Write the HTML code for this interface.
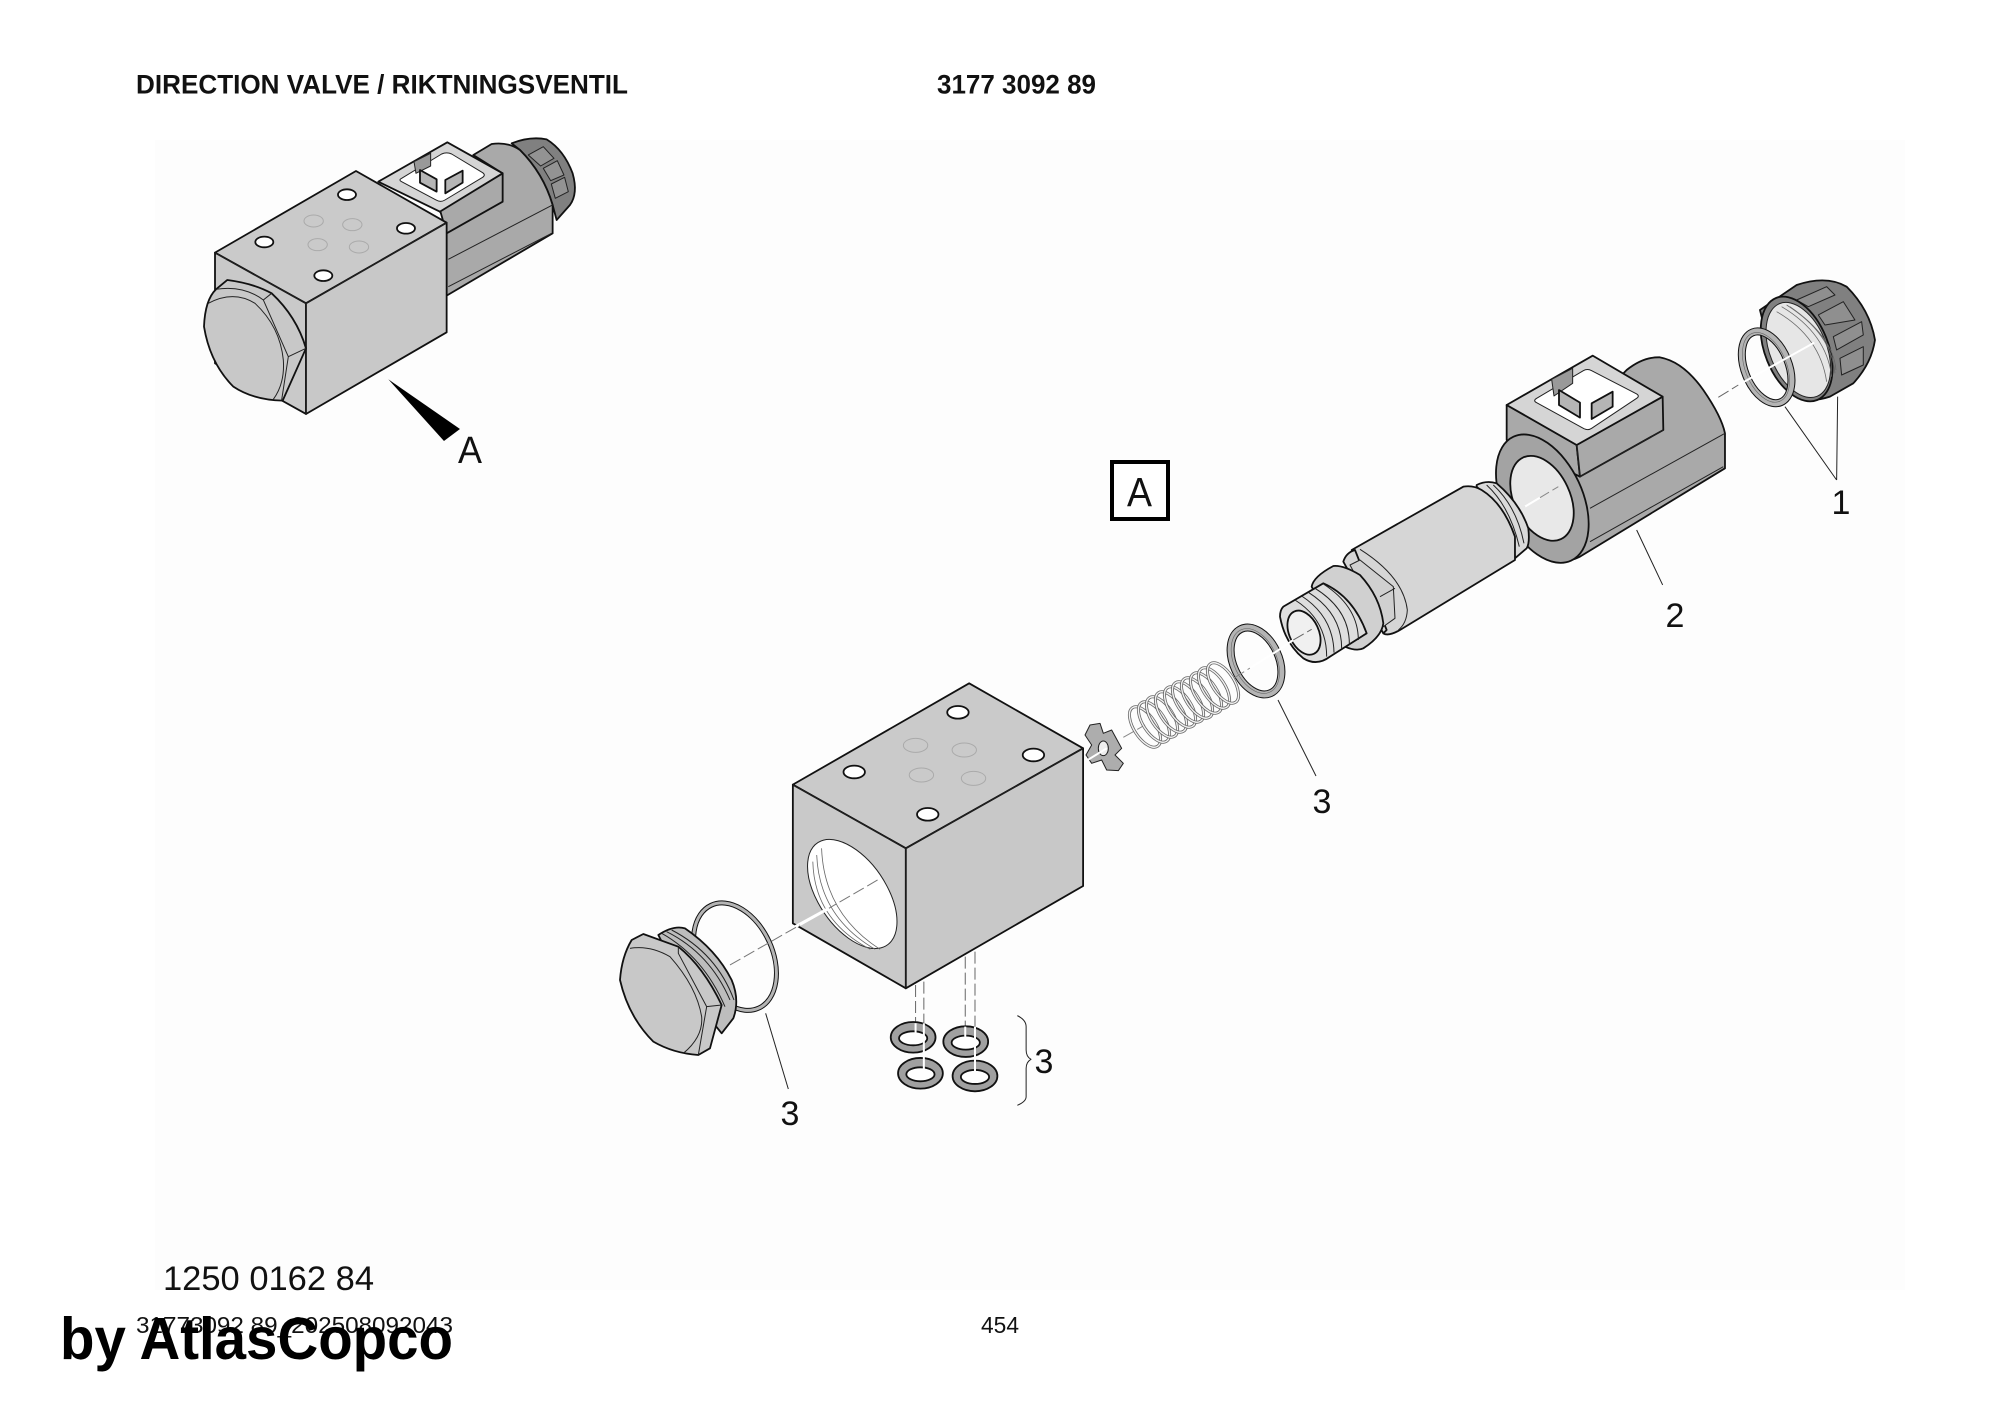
<!DOCTYPE html>
<html><head><meta charset="utf-8"><style>
html,body{margin:0;padding:0;background:#fff}
svg{display:block}
.d *{vector-effect:non-scaling-stroke;stroke:#111;stroke-width:1.8;stroke-linejoin:round}
.d .n{stroke:none}
.d .t{stroke-width:1;stroke:#222}
.d .w{stroke:#fff;stroke-width:2}
.d .g{stroke:#aaa;stroke-width:1}
.d .th{stroke:#666;stroke-width:.8}
.d .da{stroke:#666;stroke-width:1;stroke-dasharray:12 4;fill:none}
.d .rb{stroke:#111;fill:none}
.d .rg{stroke:#b4b4b4;fill:none}
.d .rl{stroke:#666;fill:none}
.d .sb{stroke:#666;stroke-width:3;fill:none}
.d .sw{stroke:#f2f2f2;stroke-width:1.4;fill:none}
text{font-family:"Liberation Sans",sans-serif;fill:#111}
</style></head><body>
<svg xmlns="http://www.w3.org/2000/svg" width="2000" height="1414" viewBox="0 0 2000 1414">
<rect width="2000" height="1414" fill="#fff"/>
<rect x="155" y="140" width="1750" height="1150" fill="#fdfdfd"/>

<text x="136" y="93.5" font-size="27" font-weight="bold" textLength="492" lengthAdjust="spacingAndGlyphs">DIRECTION VALVE / RIKTNINGSVENTIL</text>
<text x="937" y="93.5" font-size="27" font-weight="bold" textLength="159" lengthAdjust="spacingAndGlyphs">3177 3092 89</text>

<!-- assembled valve -->
<g class="d" transform="translate(200,130) scale(.3333)">
  <path d="M935,40 Q990,18 1040,28 Q1092,60 1118,130 Q1135,190 1110,225 L1070,270 L1058,225 Q1030,130 960,60 Z" fill="#808080"/>
  <path d="M985,75 L1030,50 L1062,85 L1022,108 Z" fill="#939393" class="t"/>
  <path d="M1030,115 L1072,92 L1092,135 L1052,152 Z" fill="#939393" class="t"/>
  <path d="M1054,162 L1094,142 L1105,185 L1066,205 Z" fill="#939393" class="t"/>
  <path d="M820,75 L875,42 Q925,35 960,60 Q1030,130 1058,225 L1058,310 L740,497 L740,278 L720,245 L908,215 L908,130 Z" fill="#a9a9a9"/>
  <path d="M745,388 L1058,225M745,470 L1055,310" fill="none" class="t"/>
  <path d="M720,240 L908,130 L908,215 L740,310 Z" fill="#a9a9a9"/>
  <path d="M535,155 L742,37 L908,130 L720,245 Z" fill="#d5d5d5"/>
  <path d="M605,145 L725,72 Q740,65 755,72 L848,128 Q858,135 848,142 L735,210 Q722,218 708,210 L605,155 Q595,150 605,145 Z" fill="#fff" class="t"/>
  <path d="M642,95 L692,70 L692,108 L648,130 Z" fill="#999" class="t"/>
  <path d="M660,120 L710,148 L710,185 L660,158 Z" fill="#b5b5b5"/>
  <path d="M736,150 L788,122 L788,158 L736,190 Z" fill="#b5b5b5"/>
  <path d="M45,368 L468,123 L740,278 L318,520 Z" fill="#cacaca"/>
  <path d="M45,368 L318,520 L318,852 L45,700 Z" fill="#c9c9c9"/>
  <path d="M318,520 L740,278 L740,607 L318,852 Z" fill="#c8c8c8"/>
  <path d="M45,368 L318,520 L740,278M318,520 L318,852" fill="none" class="t"/>
  <ellipse cx="441" cy="194" rx="27" ry="16" fill="#fff"/>
  <ellipse cx="618" cy="295" rx="27" ry="16" fill="#fff"/>
  <ellipse cx="193" cy="336" rx="27" ry="16" fill="#fff"/>
  <ellipse cx="370" cy="437" rx="27" ry="16" fill="#fff"/>
  <ellipse cx="341" cy="273" rx="29" ry="18" fill="none" class="g"/>
  <ellipse cx="457" cy="284" rx="29" ry="18" fill="none" class="g"/>
  <ellipse cx="353" cy="344" rx="29" ry="18" fill="none" class="g"/>
  <ellipse cx="477" cy="351" rx="29" ry="18" fill="none" class="g"/>
  <path d="M48,478 L82,450 Q160,460 215,490 Q290,560 318,655 L248,812 Q160,810 100,770 Q30,700 12,590 Q15,510 48,478 Z" fill="#c8c8c8"/>
  <path d="M48,478 Q130,465 190,510 L265,680 L245,810M215,490 L190,510M265,680 L318,655M25,520 Q100,480 165,520 Q240,590 250,690 Q255,760 220,808" fill="none" class="t"/>
  <polygon points="565,748 780,897 732,933" fill="#000" class="n"/>
</g>
<text x="458" y="463" font-size="38" textLength="24" lengthAdjust="spacingAndGlyphs">A</text>

<!-- coil and nut -->
<g class="d" transform="translate(1480,270) scale(.3333)">
  <path d="M840,120 L950,45 Q1040,15 1100,50 Q1170,120 1185,210 Q1175,280 1120,340 L1050,380 Q990,400 950,380 L890,320 Z" fill="#808080"/>
  <path d="M950,90 L1040,50 L1065,75 L985,110 Z" fill="#8f8f8f" class="t"/>
  <path d="M1015,135 L1090,95 L1125,150 L1035,165 Z" fill="#8f8f8f" class="t"/>
  <path d="M1060,200 L1145,155 L1150,195 L1070,240 Z" fill="#8f8f8f" class="t"/>
  <path d="M1080,265 L1150,230 L1150,285 L1085,315 Z" fill="#8f8f8f" class="t"/>
  <ellipse cx="950" cy="237" rx="95" ry="165" fill="#808080" transform="rotate(-22 950 237)"/>
  <ellipse cx="955" cy="240" rx="85" ry="150" fill="#e6e6e6" transform="rotate(-22 955 240)" class="t"/>
  <path d="M905,110 Q1040,190 1055,320M920,105 Q1055,190 1065,310M930,110 Q1060,200 1068,300M890,125 Q1020,200 1040,335" fill="none" class="th"/>
  <ellipse cx="860" cy="292" rx="66" ry="113" class="rb" style="stroke-width:8px" transform="rotate(-22 860 292)"/>
  <ellipse cx="860" cy="292" rx="66" ry="113" class="rg" style="stroke-width:6px" transform="rotate(-22 860 292)"/>
  <ellipse cx="858" cy="292" rx="62" ry="110" class="rl" style="stroke-width:.6px" transform="rotate(-22 858 292)"/>
  <path d="M775,345 L1003,218" class="w"/>
  <path d="M715,382 L775,345" class="da"/>
  <path d="M915,410 L1070,630M1073,380 L1070,630M470,780 L548,945" fill="none" class="t"/>

  <path d="M440,300 Q490,260 540,262 Q610,275 670,360 Q725,440 735,490 L735,595 L300,860 Q260,880 220,870 L100,650 Z" fill="#a9a9a9"/>
  <path d="M80,405 L290,525 L300,620 L80,510 Z" fill="#a9a9a9"/>
  <path d="M290,525 L548,380 L550,480 L300,620 Z" fill="#a9a9a9"/>
  <path d="M80,405 L338,257 L548,380 L290,525 Z" fill="#d5d5d5"/>
  <path d="M170,385 L310,302 Q322,295 335,302 L470,372 Q480,378 470,385 L335,475 Q325,482 312,476 L170,398 Q158,392 170,385 Z" fill="#fff" class="t"/>
  <path d="M215,328 L278,295 L278,340 L222,378 Z" fill="#999" class="t"/>
  <path d="M237,360 L300,398 L300,443 L237,405 Z" fill="#b5b5b5"/>
  <path d="M335,400 L398,365 L398,410 L335,447 Z" fill="#b5b5b5"/>
  <path d="M290,525 L300,620M300,620 L550,480M330,715 L735,490M330,815 L730,590" fill="none" class="t"/>
  <ellipse cx="187" cy="686" rx="120" ry="205" fill="#a3a3a3" transform="rotate(-25 187 686)"/>
  <ellipse cx="186" cy="685" rx="84" ry="135" fill="#e8e8e8" transform="rotate(-25 186 685)"/>
  <path d="M135,710 L235,650" class="da" style="stroke:#888"/>
  <path d="M135,710 L180,683" class="w"/>
</g>

<!-- tube -->
<g class="d" transform="translate(1260,470) scale(.3333)">
  <path d="M650,45 Q680,30 710,40 Q780,100 805,175 Q810,220 800,235 L765,265 Q760,150 650,50 Z" fill="#dadada"/>
  <path d="M680,45 Q750,110 778,230M700,45 Q770,110 792,220" fill="none" class="t"/>
  <path d="M275,240 L610,50 Q640,45 665,60 Q730,100 765,200 L765,270 L420,480 Q385,500 370,490 Z" fill="#d6d6d6"/>
  <path d="M300,238 Q430,320 442,420 Q440,460 415,480" fill="none" class="t"/>
  <path d="M250,275 Q258,248 285,240 L380,480 L370,490 Z" fill="#d6d6d6"/>
  <path d="M270,285 L300,270 L400,350 L405,445 L370,470 Z" fill="#d0d0d0" class="t"/>
  <path d="M360,380 L405,355" class="t" fill="none"/>
  <path d="M155,350 Q160,320 220,288 Q250,285 300,315 Q360,380 370,460 Q365,500 310,535 Q290,545 255,530 Z" fill="#d0d0d0"/>
  <path d="M70,410 L190,340 Q280,380 320,490 L210,560 Q170,590 130,565 Q75,520 60,440 Q60,420 70,410 Z" fill="#dedede"/>
  <path d="M105,390 Q200,450 200,560M125,378 Q220,440 222,548M145,367 Q245,430 245,535M165,355 Q270,420 268,525M190,342 Q295,410 295,510" fill="none" class="t"/>
  <ellipse cx="132" cy="488" rx="44" ry="70" fill="#f0f0f0" transform="rotate(-25 132 488)"/>
  <path d="M55,540 L100,510" class="w"/>
  <path d="M100,510 L155,478" class="da"/>
  <ellipse cx="-12" cy="573" rx="68" ry="106" class="rb" style="stroke-width:8px" transform="rotate(-25 -12 573)"/>
  <ellipse cx="-12" cy="573" rx="68" ry="106" class="rg" style="stroke-width:6px" transform="rotate(-25 -12 573)"/>
  <ellipse cx="-14" cy="573" rx="64" ry="103" class="rl" style="stroke-width:.6px" transform="rotate(-25 -14 573)"/>
</g>

<!-- block and washers -->
<g class="d" transform="translate(600,660) scale(.487,.3333)">
  <path d="M396,374 L758,70 L992,265 L628,565 Z" fill="#cacaca"/>
  <path d="M396,374 L628,565 L628,985 L396,790 Z" fill="#c9c9c9"/>
  <path d="M628,565 L992,265 L992,678 L628,985 Z" fill="#c8c8c8"/>
  <path d="M396,374 L628,565 L992,265M628,565 L628,985" fill="none" class="t"/>
  <ellipse cx="518" cy="702" rx="75" ry="172" fill="#fff" transform="rotate(-20 518 702)" class="t"/>
  <path d="M437,605 Q440,780 555,868M445,585 Q450,770 565,868M455,565 Q460,760 575,868" fill="none" class="th"/>
  <ellipse cx="735" cy="157" rx="22" ry="19" fill="#fff"/>
  <ellipse cx="890" cy="285" rx="22" ry="19" fill="#fff"/>
  <ellipse cx="522" cy="336" rx="22" ry="19" fill="#fff"/>
  <ellipse cx="673" cy="463" rx="22" ry="19" fill="#fff"/>
  <ellipse cx="648" cy="256" rx="25" ry="21" fill="none" class="g"/>
  <ellipse cx="748" cy="270" rx="25" ry="21" fill="none" class="g"/>
  <ellipse cx="660" cy="345" rx="25" ry="21" fill="none" class="g"/>
  <ellipse cx="767" cy="355" rx="25" ry="21" fill="none" class="g"/>
  <path d="M570,660 L470,745" class="da" style="stroke:#777"/>
  <path d="M470,745 L395,805" class="w" style="stroke-width:3px"/>

  <path d="M648,975 L648,1130M665,965 L665,1240M750,890 L750,1130M770,875 L770,1240" class="da"/>
  <ellipse cx="643" cy="1132" rx="46" ry="46" fill="#a0a0a0"/><ellipse cx="643" cy="1135" rx="29" ry="21" fill="#fff"/>
  <ellipse cx="751" cy="1145" rx="46" ry="46" fill="#a0a0a0"/><ellipse cx="751" cy="1148" rx="29" ry="21" fill="#fff"/>
  <ellipse cx="658" cy="1240" rx="46" ry="46" fill="#a0a0a0"/><ellipse cx="658" cy="1243" rx="29" ry="21" fill="#fff"/>
  <ellipse cx="770" cy="1248" rx="46" ry="46" fill="#a0a0a0"/><ellipse cx="770" cy="1251" rx="29" ry="21" fill="#fff"/>
  <path d="M648,1090 L648,1130M665,1090 L665,1240M750,1100 L750,1130M770,1100 L770,1240" class="w"/>
  <path d="M857,1067 Q875,1080 875,1100 V1170 Q875,1190 885,1198 Q875,1206 875,1225 V1310 Q875,1325 857,1336" fill="none" class="t"/>
</g>

<!-- plug and o-ring -->
<g class="d" transform="translate(610,890) scale(.3333)">
  <ellipse cx="375" cy="200" rx="112" ry="170" class="rb" style="stroke-width:5px" transform="rotate(-25 375 200)"/>
  <ellipse cx="375" cy="200" rx="112" ry="170" class="rg" style="stroke-width:3px" transform="rotate(-25 375 200)"/>
  <path d="M145,135 Q190,105 225,115 Q320,180 365,270 Q390,330 370,385 L335,430 L230,300 Z" fill="#bdbdbd"/>
  <path d="M170,125 Q300,190 360,330M185,120 Q320,190 372,330M155,130 Q280,200 345,350" fill="none" class="t"/>
  <path d="M65,150 L100,132 L205,170 Q280,230 335,345 L300,475 L265,495 Q190,490 130,455 Q55,380 30,270 Q35,200 65,150 Z" fill="#c8c8c8"/>
  <path d="M60,175 Q120,165 180,200 Q260,290 275,380 Q280,440 220,490M205,170 L205,190 L290,350 L335,345M290,350 L265,495" fill="none" class="t"/>
  <path d="M360,225 L640,65" class="da" style="stroke:#777"/>
  <path d="M570,105 L640,65" class="w"/>
  <path d="M467,370 L535,597" fill="none" class="t"/>
</g>

<!-- spring and star washer -->
<g class="d">
  <g transform="translate(1090,680) scale(.3333)">
    <path d="M0,135 L30,130 L40,160 L65,150 L95,205 L75,225 L100,250 L85,272 L50,270 L35,240 L5,250 L-12,225 L5,195 L-15,165 Z" fill="#adadad" class="t"/>
    <ellipse cx="40" cy="205" rx="15" ry="22" fill="#eee" class="t"/>
    <path d="M-15,245 L50,205" class="w"/>
    <path d="M100,172 L165,135" class="da" style="stroke:#888"/>
  </g>
  <g>
    <ellipse cx="1145" cy="727" rx="11" ry="23" class="sb" transform="rotate(-33 1145 727)"/><ellipse cx="1145" cy="727" rx="11" ry="23" class="sw" transform="rotate(-33 1145 727)"/>
    <ellipse cx="1154" cy="722" rx="11" ry="23" class="sb" transform="rotate(-33 1154 722)"/><ellipse cx="1154" cy="722" rx="11" ry="23" class="sw" transform="rotate(-33 1154 722)"/>
    <ellipse cx="1162" cy="717" rx="11" ry="23" class="sb" transform="rotate(-33 1162 717)"/><ellipse cx="1162" cy="717" rx="11" ry="23" class="sw" transform="rotate(-33 1162 717)"/>
    <ellipse cx="1171" cy="712" rx="11" ry="23" class="sb" transform="rotate(-33 1171 712)"/><ellipse cx="1171" cy="712" rx="11" ry="23" class="sw" transform="rotate(-33 1171 712)"/>
    <ellipse cx="1180" cy="707" rx="11" ry="23" class="sb" transform="rotate(-33 1180 707)"/><ellipse cx="1180" cy="707" rx="11" ry="23" class="sw" transform="rotate(-33 1180 707)"/>
    <ellipse cx="1188" cy="702" rx="11" ry="23" class="sb" transform="rotate(-33 1188 702)"/><ellipse cx="1188" cy="702" rx="11" ry="23" class="sw" transform="rotate(-33 1188 702)"/>
    <ellipse cx="1197" cy="698" rx="11" ry="23" class="sb" transform="rotate(-33 1197 698)"/><ellipse cx="1197" cy="698" rx="11" ry="23" class="sw" transform="rotate(-33 1197 698)"/>
    <ellipse cx="1206" cy="693" rx="11" ry="23" class="sb" transform="rotate(-33 1206 693)"/><ellipse cx="1206" cy="693" rx="11" ry="23" class="sw" transform="rotate(-33 1206 693)"/>
    <ellipse cx="1214" cy="688" rx="11" ry="23" class="sb" transform="rotate(-33 1214 688)"/><ellipse cx="1214" cy="688" rx="11" ry="23" class="sw" transform="rotate(-33 1214 688)"/>
    <ellipse cx="1223" cy="683" rx="11" ry="23" class="sb" transform="rotate(-33 1223 683)"/><ellipse cx="1223" cy="683" rx="11" ry="23" class="sw" transform="rotate(-33 1223 683)"/>
  </g>
  <path d="M1278,700 L1316,776" fill="none" class="t"/>
  <path d="M1234,678 L1250,668" class="da" style="stroke:#888"/>
  <path d="M1250,668 L1285,646" class="w"/>
</g>

<rect x="1112" y="462" width="56" height="57" fill="#fff" stroke="#000" stroke-width="4"/>
<text x="1127" y="506" font-size="41" textLength="25" lengthAdjust="spacingAndGlyphs">A</text>

<text x="1841" y="514" font-size="34" text-anchor="middle">1</text>
<text x="1675" y="627" font-size="34" text-anchor="middle">2</text>
<text x="1322" y="813" font-size="34" text-anchor="middle">3</text>
<text x="1044" y="1073" font-size="34" text-anchor="middle">3</text>
<text x="790" y="1125" font-size="34" text-anchor="middle">3</text>

<text x="163" y="1290" font-size="34.5" textLength="211" lengthAdjust="spacingAndGlyphs">1250 0162 84</text>
<text x="136" y="1333" font-size="23" textLength="317" lengthAdjust="spacingAndGlyphs">31773092 89_202508092043</text>
<text x="981" y="1333" font-size="23" textLength="38" lengthAdjust="spacingAndGlyphs">454</text>
<text x="60" y="1359" font-size="59" font-weight="bold" textLength="393" lengthAdjust="spacingAndGlyphs" style="fill:#000">by AtlasCopco</text>
</svg>
</body></html>
